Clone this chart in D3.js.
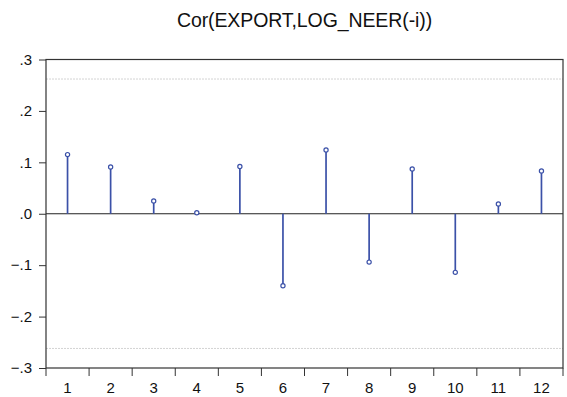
<!DOCTYPE html>
<html>
<head>
<meta charset="utf-8">
<script src="https://cdn.jsdelivr.net/npm/d3@7"></script>
<style>
  body { margin: 0; background: #fff; }
  text { font-family: "Liberation Sans", Arial, sans-serif; }
</style>
</head>
<body>
<script>
const lags = [1, 2, 3, 4, 5, 6, 7, 8, 9, 10, 11, 12];
const corr = [0.115, 0.091, 0.025, 0.002, 0.092, -0.140, 0.124, -0.094, 0.087, -0.114, 0.019, 0.083];
const yTicks = [-0.3, -0.2, -0.1, 0, 0.1, 0.2, 0.3];
const band = 0.262;
const title = "Cor(EXPORT,LOG_NEER(-i))";

const margin = { top: 59.5, right: 4, bottom: 29, left: 46 };
const width = 567 - margin.left - margin.right;
const height = 397 - margin.top - margin.bottom;

const xScale = d3.scaleBand().domain(lags).range([0, width]);
const yScale = d3.scaleLinear().domain([-0.3, 0.3]).range([height, 0]);

const fmt = d => d === 0 ? ".0" : d3.format(".1f")(d).replace("0.", ".");

const svg = d3.select("body").append("svg")
    .attr("width", 567)
    .attr("height", 397);

// title sits over the centre of the plot area
svg.append("text")
    .attr("x", margin.left + width / 2)
    .attr("y", 27)
    .attr("text-anchor", "middle")
    .style("font-size", "19.5px")
    .style("letter-spacing", "-0.1px")
    .attr("fill", "#111")
    .text(title);

const g = svg.append("g")
    .attr("transform", `translate(${margin.left},${margin.top})`);

// confidence band lines
g.selectAll(".band")
    .data([band, -band])
    .enter().append("line")
    .attr("x1", 0)
    .attr("x2", width)
    .attr("y1", d => yScale(d))
    .attr("y2", d => yScale(d))
    .attr("stroke", "#c8c8c8")
    .attr("stroke-width", 0.8)
    .attr("stroke-dasharray", "2,1");

// zero line
g.append("line")
    .attr("x1", 0)
    .attr("x2", width)
    .attr("y1", yScale(0))
    .attr("y2", yScale(0))
    .attr("stroke", "#222")
    .attr("stroke-width", 1);

// stems
g.selectAll(".stem")
    .data(lags)
    .enter().append("line")
    .attr("x1", d => xScale(d) + xScale.bandwidth() / 2)
    .attr("x2", d => xScale(d) + xScale.bandwidth() / 2)
    .attr("y1", yScale(0))
    .attr("y2", (d, i) => yScale(corr[i]))
    .attr("stroke", "#3b51a8")
    .attr("stroke-width", 1.7);

g.selectAll(".dot")
    .data(lags)
    .enter().append("circle")
    .attr("cx", d => xScale(d) + xScale.bandwidth() / 2)
    .attr("cy", (d, i) => yScale(corr[i]))
    .attr("r", 2.1)
    .attr("fill", "#fff")
    .attr("stroke", "#3b51a8")
    .attr("stroke-width", 1.2);

// y axis
const yAxis = d3.axisLeft(yScale)
    .tickValues(yTicks)
    .tickFormat(fmt)
    .tickSize(7)
    .tickPadding(7);

g.append("g")
    .call(yAxis)
    .call(a => a.select(".domain").remove())
    .call(a => a.selectAll("line").attr("stroke", "#333"))
    .call(a => a.selectAll("text").style("font-size", "15px").attr("fill", "#111"));

// x axis: ticks at band edges, labels at centres
const edges = lags.map(d => xScale(d)).concat([width]);
g.selectAll(".xtick")
    .data(edges)
    .enter().append("line")
    .attr("x1", d => d)
    .attr("x2", d => d)
    .attr("y1", height)
    .attr("y2", height + 8)
    .attr("stroke", "#333");

g.selectAll(".xlabel")
    .data(lags)
    .enter().append("text")
    .attr("x", d => xScale(d) + xScale.bandwidth() / 2)
    .attr("y", height + 25)
    .attr("text-anchor", "middle")
    .style("font-size", "15px")
    .attr("fill", "#111")
    .text(d => d);

// frame
g.append("rect")
    .attr("x", 0)
    .attr("y", 0)
    .attr("width", width)
    .attr("height", height)
    .attr("fill", "none")
    .attr("stroke", "#333")
    .attr("stroke-width", 1.2);
</script>
</body>
</html>
